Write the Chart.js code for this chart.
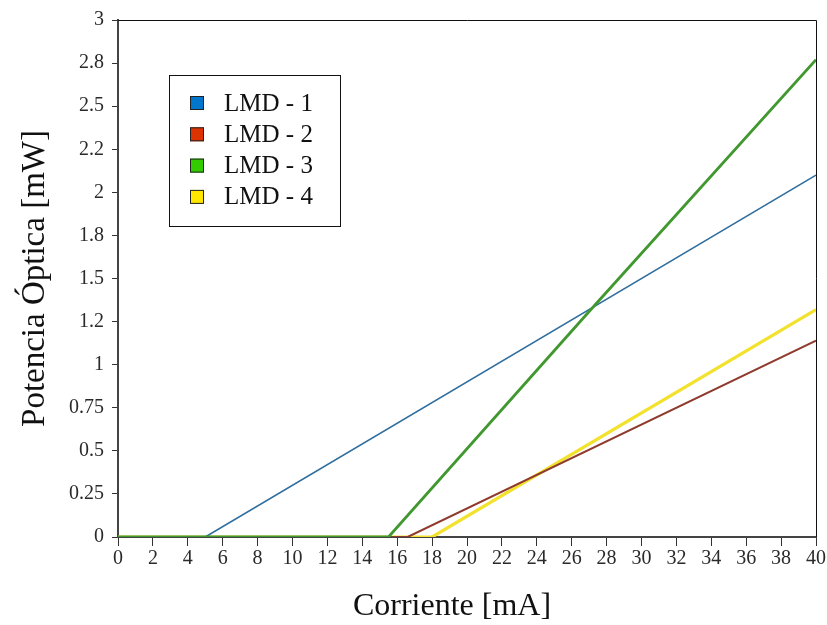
<!DOCTYPE html>
<html>
<head>
<meta charset="utf-8">
<title>Potencia óptica vs corriente</title>
<script src="https://cdn.jsdelivr.net/npm/chart.js@4.4.1/dist/chart.umd.min.js"></script>
<style>
    html, body { margin: 0; padding: 0; background: #ffffff; }
    #wrap { width: 827px; height: 625px; }
</style>
</head>
<body>
<div id="wrap"><canvas id="lmdChart" width="827" height="625"></canvas></div>
<script>
// Curvas P-I de los cuatro láseres (corriente en mA, potencia en mW)
var seriesNames = ['LMD - 1', 'LMD - 2', 'LMD - 3', 'LMD - 4'];

var currentLmd1 = [0, 5, 40];
var powerLmd1 = [0, 0, 2.1];

var currentLmd2 = [0, 16.6, 40];
var powerLmd2 = [0, 0, 1.14];

var currentLmd3 = [0, 15.5, 27.1, 40];
var powerLmd3 = [0, 0, 1.32, 2.77];

var currentLmd4 = [0, 18, 40];
var powerLmd4 = [0, 0, 1.32];

// Etiquetas del eje Y tal como aparecen (paso de 0.25)
var yTickLabels = ['0', '0.25', '0.5', '0.75', '1', '1.2', '1.5', '1.8', '2', '2.2', '2.5', '2.8', '3'];

var lineColors = ['#2f6e9e', '#8e3a2c', '#40982f', '#f2e22e'];
var legendColors = ['#0077cc', '#dd3300', '#33cc00', '#ffe600'];
var lineWidths = [1.6, 2, 2.8, 3.2];

function toPoints(xs, ys) {
    return xs.map(function (x, i) { return { x: x, y: ys[i] }; });
}

var serif = '"Liberation Serif", "Times New Roman", serif';

// Marco superior/derecho del área de trazado
var frame = {
    id: 'frame',
    afterDraw: function (chart) {
        var a = chart.chartArea, ctx = chart.ctx;
        ctx.save();
        ctx.strokeStyle = '#111111';
        ctx.lineWidth = 1;
        ctx.beginPath();
        ctx.moveTo(a.left, a.top + 0.5);
        ctx.lineTo(a.right + 0.5, a.top + 0.5);
        ctx.lineTo(a.right + 0.5, a.bottom);
        ctx.stroke();
        ctx.restore();
    }
};

// Título del eje X, algo desplazado a la izquierda del centro del eje
var xTitle = {
    id: 'xTitle',
    afterDraw: function (chart) {
        var ctx = chart.ctx;
        ctx.save();
        ctx.font = '32px ' + serif;
        ctx.fillStyle = '#111111';
        ctx.textAlign = 'center';
        ctx.textBaseline = 'middle';
        ctx.fillText('Corriente [mA]', 452, 607);
        ctx.restore();
    }
};

// Leyenda en recuadro dentro del área de trazado
var boxLegend = {
    id: 'boxLegend',
    afterDraw: function (chart) {
        var ctx = chart.ctx;
        var x = 169, y = 75, w = 171, h = 151;
        ctx.save();
        ctx.fillStyle = '#ffffff';
        ctx.fillRect(x, y, w, h);
        ctx.strokeStyle = '#111111';
        ctx.lineWidth = 1;
        ctx.strokeRect(x + 0.5, y + 0.5, w, h);
        ctx.font = '25px ' + serif;
        ctx.textBaseline = 'middle';
        seriesNames.forEach(function (name, i) {
            var cy = 103 + i * 31.3;
            ctx.fillStyle = legendColors[i];
            ctx.fillRect(190, cy - 7, 14, 14);
            ctx.strokeStyle = '#222222';
            ctx.strokeRect(190.5, cy - 6.5, 13, 13);
            ctx.fillStyle = '#111111';
            ctx.fillText(name, 224, cy + 1);
        });
        ctx.restore();
    }
};

var datasets = [
    toPoints(currentLmd1, powerLmd1),
    toPoints(currentLmd2, powerLmd2),
    toPoints(currentLmd3, powerLmd3),
    toPoints(currentLmd4, powerLmd4)
].map(function (pts, i) {
    return {
        label: seriesNames[i],
        data: pts,
        showLine: true,
        borderColor: lineColors[i],
        backgroundColor: legendColors[i],
        borderWidth: lineWidths[i],
        pointRadius: 0,
        tension: 0,
        fill: false
    };
});
// la curva verde encima de las demás
datasets[2].order = -1;

new Chart(document.getElementById('lmdChart'), {
    type: 'scatter',
    data: { datasets: datasets },
    plugins: [frame, xTitle, boxLegend],
    options: {
        responsive: false,
        animation: false,
        layout: { padding: { top: 18, right: 11, left: 0, bottom: 0 } },
        plugins: {
            legend: { display: false },
            tooltip: { enabled: false }
        },
        scales: {
            x: {
                type: 'linear',
                min: 0,
                max: 40,
                afterFit: function (axis) { axis.height = 88; },
                ticks: {
                    stepSize: 2,
                    color: '#2a2a2a',
                    padding: 1,
                    maxRotation: 0,
                    font: { family: serif, size: 20 }
                },
                grid: {
                    drawOnChartArea: false,
                    color: '#333333',
                    tickLength: 9,
                    tickWidth: 1
                },
                border: { color: '#444444', width: 2 },
                title: { display: false }
            },
            y: {
                type: 'linear',
                min: 0,
                max: 3,
                afterFit: function (axis) { axis.width = 118; },
                ticks: {
                    stepSize: 0.25,
                    color: '#2a2a2a',
                    padding: 8,
                    font: { family: serif, size: 20 },
                    callback: function (value, index) { return yTickLabels[index]; }
                },
                grid: {
                    drawOnChartArea: false,
                    color: '#333333',
                    tickLength: 6,
                    tickWidth: 1
                },
                border: { color: '#444444', width: 2 },
                title: {
                    display: true,
                    text: 'Potencia Óptica [mW]',
                    color: '#111111',
                    padding: { top: 16, bottom: 0 },
                    font: { family: serif, size: 33 }
                }
            }
        }
    }
});
</script>
</body>
</html>
